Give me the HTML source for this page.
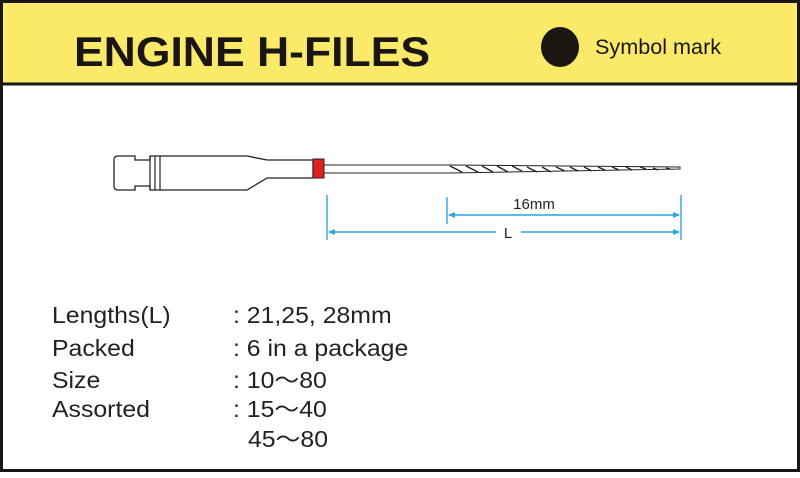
<!DOCTYPE html>
<html><head><style>
html,body{margin:0;padding:0;background:#fff}
</style></head><body>
<svg width="800" height="473" viewBox="0 0 800 473" xmlns="http://www.w3.org/2000/svg" font-family="Liberation Sans, sans-serif">
<rect x="0" y="0" width="800" height="473" fill="#fff"/>
<rect x="2" y="3" width="796" height="80" fill="#fbe96a"/>
<rect x="1.5" y="1.5" width="797" height="469" fill="none" stroke="#1a1712" stroke-width="3"/>
<line x1="0" y1="84" x2="800" y2="84" stroke="#1a1712" stroke-width="3"/>
<text x="74" y="66" font-size="42" font-weight="bold" fill="#1a1712" transform="translate(74 0) scale(1.06 1) translate(-74 0)">ENGINE H-FILES</text>
<ellipse cx="560" cy="47" rx="19" ry="20" fill="#1a1712"/>
<text x="595" y="54" font-size="21" fill="#1a1712" transform="translate(595 0) scale(1.03 1) translate(-595 0)">Symbol mark</text>
<!-- file -->
<path d="M118 156 H135 V160 H150 V156 H247 L267 160 H313 V178 H267 L247 190 H150 V186 H135 V190 H118 Q114 190 114 186 V160 Q114 156 118 156 Z" fill="#fff" stroke="#222" stroke-width="1.3"/>
<line x1="150" y1="156" x2="150" y2="190" stroke="#222" stroke-width="1.2"/>
<line x1="155" y1="156" x2="155" y2="190" stroke="#222" stroke-width="1.2"/>
<line x1="160" y1="156" x2="160" y2="190" stroke="#222" stroke-width="1.2"/>
<rect x="313" y="159" width="11" height="19" fill="#e02020" stroke="#222" stroke-width="1"/>
<path d="M324 165 H450 L680 167 L680 169 L450 173 H324 Z" fill="#fff" stroke="#222" stroke-width="1"/>
<path d="M450 166 l12 6 M466 166 l12 6 M482 166 l11 6 M497 166 l11 6 M512 166 l10 5 M527 167 l10 5 M542 167 l9 5 M556 167 l9 4 M570 167 l8 4 M584 167 l8 4 M598 167 l7 3 M612 167 l7 3 M626 167 l6 3 M640 167 l6 2 M653 168 l5 2 M666 168 l4 1" stroke="#222" stroke-width="1.3" fill="none"/>
<!-- dimensions -->
<g stroke="#2aa3e0" stroke-width="1.4" fill="none">
<line x1="327" y1="195" x2="327" y2="240"/>
<line x1="447" y1="197" x2="447" y2="224"/>
<line x1="681" y1="195" x2="681" y2="240"/>
<line x1="449" y1="215" x2="679" y2="215"/>
<line x1="329" y1="232" x2="496" y2="232"/>
<line x1="521" y1="232" x2="679" y2="232"/>
</g>
<g fill="#2aa3e0">
<path d="M448 215 l7 -3 v6 Z"/><path d="M680 215 l-7 -3 v6 Z"/>
<path d="M328 232 l7 -3 v6 Z"/><path d="M680 232 l-7 -3 v6 Z"/>
</g>
<text x="534" y="209" font-size="15" fill="#222" text-anchor="middle">16mm</text>
<text x="508" y="238" font-size="15" fill="#222" text-anchor="middle">L</text>
<!-- specs -->
<g font-size="23" fill="#222">
<text x="52" y="323" transform="translate(52 0) scale(1.08 1) translate(-52 0)">Lengths(L)</text>
<text x="52" y="356" transform="translate(52 0) scale(1.08 1) translate(-52 0)">Packed</text>
<text x="52" y="388" transform="translate(52 0) scale(1.08 1) translate(-52 0)">Size</text>
<text x="52" y="417" transform="translate(52 0) scale(1.08 1) translate(-52 0)">Assorted</text>
<text x="233" y="323" transform="translate(233 0) scale(1.08 1) translate(-233 0)">: 21,25, 28mm</text>
<text x="233" y="356" transform="translate(233 0) scale(1.08 1) translate(-233 0)">: 6 in a package</text>
<text x="233" y="388" transform="translate(233 0) scale(1.08 1) translate(-233 0)">: 10～80</text>
<text x="233" y="417" transform="translate(233 0) scale(1.08 1) translate(-233 0)">: 15～40</text>
<text x="248" y="447" transform="translate(248 0) scale(1.08 1) translate(-248 0)">45～80</text>
</g>
</svg>
</body></html>
